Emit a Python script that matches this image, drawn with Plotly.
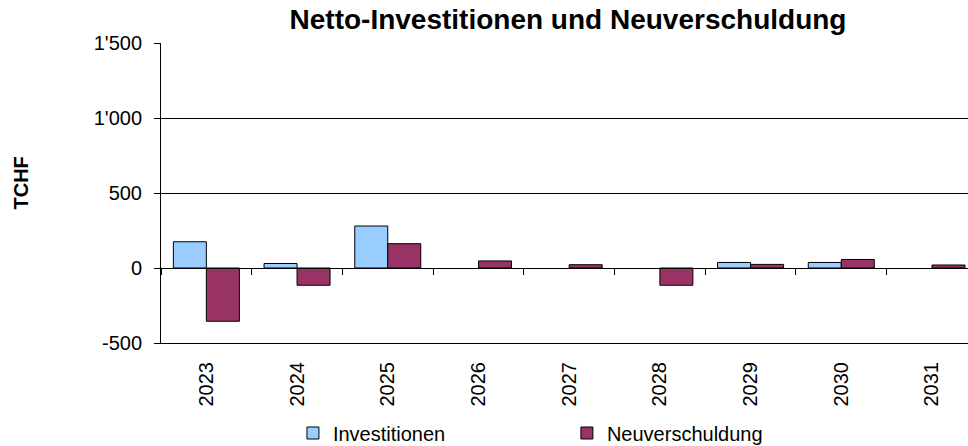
import plotly.graph_objects as go

years = ["2023", "2024", "2025", "2026", "2027", "2028", "2029", "2030", "2031"]
investitionen = [175, 30, 280, 0, 0, 0, 37, 37, 0]
neuverschuldung = [-355, -115, 162, 47, 22, -115, 24, 57, 20]
y_tick_vals = [-500, 0, 500, 1000, 1500]
y_tick_text = ["-500", "0", "500", "1'000", "1'500"]

FONT = "Liberation Sans, Arial, Helvetica, sans-serif"


def outline_widths(values):
    return [1 if v != 0 else 0 for v in values]


fig = go.Figure()
fig.add_trace(go.Bar(
    x=years, y=investitionen, name="Investitionen",
    marker=dict(color="#99CCFF",
                line=dict(color="#000000", width=outline_widths(investitionen))),
    legend="legend",
))
fig.add_trace(go.Bar(
    x=years, y=neuverschuldung, name="Neuverschuldung",
    marker=dict(color="#993366",
                line=dict(color="#000000", width=outline_widths(neuverschuldung))),
    legend="legend2",
))
# helper trace for the category axis that crosses at zero
fig.add_trace(go.Scatter(
    x=years, y=neuverschuldung, xaxis="x2", mode="markers",
    marker=dict(opacity=0), showlegend=False, hoverinfo="skip",
))

xr = [-0.5, 8.397]
fig.update_layout(
    width=968, height=446,
    margin=dict(l=161, r=0, t=43, b=103, autoexpand=False),
    paper_bgcolor="white", plot_bgcolor="white",
    font=dict(family=FONT, size=20, color="#000000"),
    barmode="group", bargap=0.2723, bargroupgap=0,
    title=dict(
        text="<b>Netto-Investitionen und Neuverschuldung</b>",
        font=dict(family=FONT, size=28, color="#000000"),
        x=568 / 968, xanchor="center", xref="container",
        y=1 - 19.5 / 446, yanchor="middle", yref="container",
    ),
    xaxis=dict(
        type="category", range=xr, showgrid=False, zeroline=False,
        showline=True, linecolor="#000000", linewidth=1, automargin=False,
        ticks="", tickangle=-90, ticklabelstandoff=10,
        tickfont=dict(family=FONT, size=20, color="#000000"),
    ),
    xaxis2=dict(
        type="category", range=xr, overlaying="x", anchor="free",
        position=0.25, side="bottom", automargin=False,
        showgrid=False, zeroline=False, showline=True,
        linecolor="#000000", linewidth=1,
        ticks="outside", tickson="boundaries", ticklen=6,
        tickcolor="#000000", tickwidth=1, showticklabels=False,
    ),
    yaxis=dict(
        range=[-500, 1500], tickvals=y_tick_vals, ticktext=y_tick_text,
        showgrid=True, gridcolor="#000000", gridwidth=1, automargin=False,
        zeroline=False, showline=True, linecolor="#000000", linewidth=1,
        ticks="outside", ticklen=6, tickcolor="#000000",
        ticklabelstandoff=8,
        tickfont=dict(family=FONT, size=20, color="#000000"),
    ),
    legend=dict(
        orientation="h", x=0.1635, xanchor="left", y=-0.3, yanchor="middle",
        font=dict(family=FONT, size=20, color="#000000"),
        bgcolor="rgba(0,0,0,0)", borderwidth=0,
    ),
    legend2=dict(
        orientation="h", x=0.503, xanchor="left", y=-0.3, yanchor="middle",
        font=dict(family=FONT, size=20, color="#000000"),
        bgcolor="rgba(0,0,0,0)", borderwidth=0,
    ),
    annotations=[dict(
        text="<b>TCHF</b>", textangle=-90, xref="paper", yref="paper",
        x=(20.5 - 161) / 807, y=(343 - 183) / 300,
        xanchor="center", yanchor="middle", showarrow=False,
        font=dict(family=FONT, size=20, color="#000000"),
    )],
)

fig.write_html(
    "out.html",
    config={"displayModeBar": False},
    post_script="document.body.style.margin='0';document.body.style.padding='0';",
)
